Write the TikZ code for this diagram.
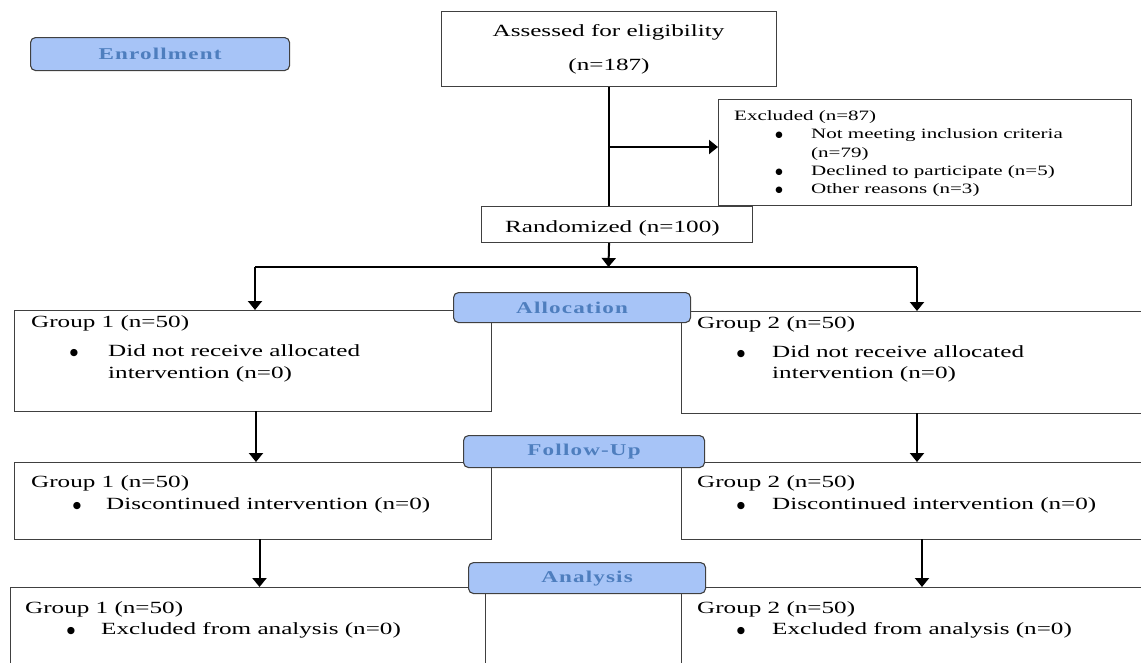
\documentclass[tikz,border=0pt]{standalone}
\usepackage{fontspec}
\setmainfont{Liberation Serif}[FakeStretch=1.47]
\newfontfamily\lblfamily{Liberation Serif}[FakeStretch=1.4,LetterSpace=7]
\newfontfamily\bulfamily{DejaVu Sans}
\usetikzlibrary{arrows.meta}
\definecolor{boxc}{HTML}{404040}
\definecolor{lblfill}{HTML}{A7C4F7}
\definecolor{lbltext}{HTML}{4E7EBE}
\tikzset{
  box/.style={draw=boxc, line width=1.1pt, inner sep=0pt, anchor=north west},
  lbl/.style={draw=boxc, fill=lblfill, rounded corners=5pt, line width=1.1pt, inner sep=0pt,
    anchor=north west, font=\lblfamily\bfseries\fontsize{16.5}{18}\selectfont, text=lbltext},
  arr/.style={line width=2pt, -{Triangle[width=14pt,length=9pt]}},
  conn/.style={line width=2pt},
  tx/.style={anchor=base west, inner sep=0pt, font=\fontsize{17.1}{20}\selectfont},
  sx/.style={anchor=base west, inner sep=0pt, font=\fontsize{14.3}{17}\selectfont},
  bu/.style={anchor=base, inner sep=0pt, font=\bulfamily\fontsize{9.5}{10}\selectfont},
  sbu/.style={anchor=base, inner sep=0pt, font=\bulfamily\fontsize{8.5}{9}\selectfont},
}
\begin{document}
\begin{tikzpicture}[x=1pt,y=-1pt]
\useasboundingbox (0,0) rectangle (1141,662);
\clip (0,0) rectangle (1141,662);

% main boxes
\node[box, minimum width=335pt, minimum height=75pt] (assess) at (441,11) {};
\node[box, minimum width=413pt, minimum height=106pt] (excl) at (718,99) {};
\node[box, minimum width=271pt, minimum height=36pt] (rand) at (481,206) {};
\node[box, minimum width=477pt, minimum height=101pt] (g1a) at (14,310) {};
\node[box, minimum width=479pt, minimum height=102pt] (g2a) at (681,311) {};
\node[box, minimum width=477pt, minimum height=77pt] (g1f) at (14,462) {};
\node[box, minimum width=479pt, minimum height=77pt] (g2f) at (681,462) {};
\node[box, minimum width=475pt, minimum height=100pt] (g1n) at (10,587) {};
\node[box, minimum width=479pt, minimum height=100pt] (g2n) at (681,587) {};

% connectors
\coordinate (exsplit) at (608.5,147);
\coordinate (sL) at (255,267);
\coordinate (sM) at (608.5,267);
\coordinate (sR) at (917,267);
\draw[conn] (assess.south) -- (assess.south |- rand.north);
\draw[arr] (exsplit) -- (exsplit -| excl.west);
\draw[arr] (assess.south |- rand.south) -- (sM);
\draw[conn] (sL) -- (sR);
\draw[arr] (sL) -- (sL |- g1a.north);
\draw[arr] (sR) -- (sR |- g2a.north);
\coordinate (a1) at (256,411);
\coordinate (a2) at (917,413);
\coordinate (b1) at (259.5,539);
\coordinate (b2) at (922,539);
\draw[arr] (a1) -- (a1 |- g1f.north);
\draw[arr] (a2) -- (a2 |- g2f.north);
\draw[arr] (b1) -- (b1 |- g1n.north);
\draw[arr] (b2) -- (b2 |- g2n.north);

% stage labels
\node[lbl, minimum width=259pt, minimum height=33pt] (enr) at (30,37) {Enrollment};
\node[lbl, minimum width=237pt, minimum height=30pt] (alloc) at (453,292) {Allocation};
\node[lbl, minimum width=241pt, minimum height=32pt] (fu) at (463,435) {Follow-Up};
\node[lbl, minimum width=237pt, minimum height=31pt] (ana) at (468,562) {Analysis};

% texts
\node[tx, anchor=base] (tA1) at (608.5,36) {Assessed for eligibility};
\node[tx, anchor=base] (tA2) at (609,70) {(n=187)};

\node[sx] (tE0) at (734,120) {Excluded (n=87)};
\node[sbu] (bE1) at (779,137) {●};
\node[sx] (tE1) at (811,138) {Not meeting inclusion criteria};
\node[sx] (tE2) at (811,157) {(n=79)};
\node[sbu] (bE3) at (779,174) {●};
\node[sx] (tE3) at (811,175) {Declined to participate (n=5)};
\node[sbu] (bE4) at (779,192) {●};
\node[sx] (tE4) at (811,193) {Other reasons (n=3)};

\node[tx] (tR) at (505,232) {Randomized (n=100)};

\node[tx] (t1a0) at (31,327) {Group 1 (n=50)};
\node[bu] (b1a) at (74,355) {●};
\node[tx] (t1a1) at (108,356) {Did not receive allocated};
\node[tx] (t1a2) at (108,378) {intervention (n=0)};

\node[tx] (t2a0) at (697,328) {Group 2 (n=50)};
\node[bu] (b2a) at (741,356) {●};
\node[tx] (t2a1) at (772,357) {Did not receive allocated};
\node[tx] (t2a2) at (772,378) {intervention (n=0)};

\node[tx] (t1f0) at (31,487) {Group 1 (n=50)};
\node[bu] (b1f) at (77,508) {●};
\node[tx] (t1f1) at (106,509) {Discontinued intervention (n=0)};

\node[tx] (t2f0) at (697,487) {Group 2 (n=50)};
\node[bu] (b2f) at (741,508) {●};
\node[tx] (t2f1) at (772,509) {Discontinued intervention (n=0)};

\node[tx] (t1n0) at (25,613) {Group 1 (n=50)};
\node[bu] (b1n) at (71,633) {●};
\node[tx] (t1n1) at (101,634) {Excluded from analysis (n=0)};

\node[tx] (t2n0) at (697,613) {Group 2 (n=50)};
\node[bu] (b2n) at (741,633) {●};
\node[tx] (t2n1) at (772,634) {Excluded from analysis (n=0)};
\end{tikzpicture}
\end{document}
